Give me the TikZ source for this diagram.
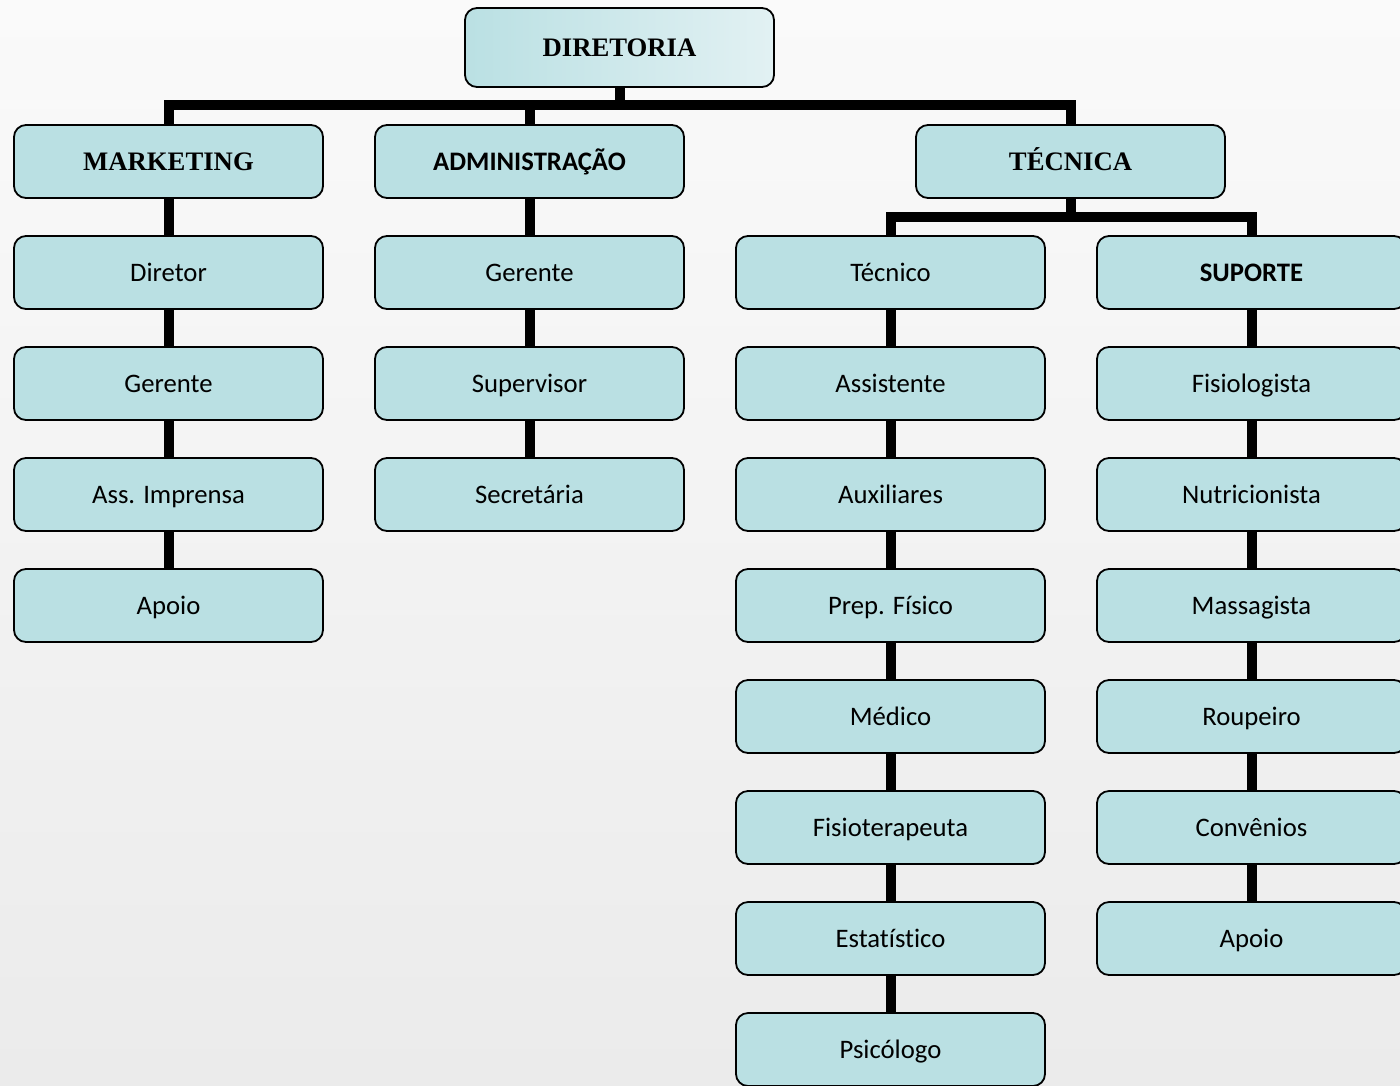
\documentclass[tikz,border=0pt]{standalone}
\usepackage{fontspec}
\newfontfamily\carlito[Ligatures=NoCommon]{Carlito}
\newfontfamily\tnr{Liberation Serif}

\definecolor{boxfill}{RGB}{186,224,227}
\definecolor{boxlight}{RGB}{226,241,243}
\definecolor{pagetop}{RGB}{250,250,250}
\definecolor{pagebot}{RGB}{235,235,235}

\pgfdeclarelayer{pageback}
\pgfdeclarelayer{wires}
\pgfsetlayers{pageback,wires,main}

\tikzset{
  unitbox/.style={draw=black, line width=1.8pt, rounded corners=12pt, fill=boxfill,
    minimum width=309pt, minimum height=73pt, inner sep=0pt,
    text height=19pt, text depth=1pt,
    font=\carlito\fontsize{26.7}{30}\selectfont},
  headserif/.style={font=\tnr\bfseries\fontsize{26.7}{30}\selectfont},
  headsans/.style={font=\carlito\bfseries\fontsize{26.7}{30}\selectfont},
  bar/.style={line width=10pt, line join=miter, line cap=butt, draw=black},
}

\begin{document}
\begin{tikzpicture}[x=1pt,y=1pt]
\useasboundingbox (0,0) rectangle (1400,-1085);
\clip (0,0) rectangle (1400,-1085);

\begin{pgfonlayer}{pageback}
  \fill[top color=pagetop, bottom color=pagebot] (0,0) rectangle (1400,-1085);
\end{pgfonlayer}

% top of the chart
\node[unitbox, headserif, minimum height=79pt, shading=axis, shading angle=60,
      left color=boxfill, right color=boxlight]
  (dir) at (619.5,-47.5) {DIRETORIA};

% department heads
\node[unitbox, headserif] (mk)  at (168.5,-161.5) {MARKETING};
\node[unitbox, headsans]  (adm) at (529.5,-161.5) {ADMINISTRAÇÃO};
\node[unitbox, headserif] (tec) at (1070.5,-161.5) {TÉCNICA};

% marketing column
\node[unitbox] (m1) at (168.5,-272.5) {Diretor};
\node[unitbox] (m2) at (168.5,-383.5) {Gerente};
\node[unitbox] (m3) at (168.5,-494.5) {Ass. Imprensa};
\node[unitbox] (m4) at (168.5,-605.5) {Apoio};

% administration column
\node[unitbox] (a1) at (529.5,-272.5) {Gerente};
\node[unitbox] (a2) at (529.5,-383.5) {Supervisor};
\node[unitbox] (a3) at (529.5,-494.5) {Secretária};

% technical staff column
\node[unitbox] (t1) at (890.5,-272.5) {Técnico};
\node[unitbox] (t2) at (890.5,-383.5) {Assistente};
\node[unitbox] (t3) at (890.5,-494.5) {Auxiliares};
\node[unitbox] (t4) at (890.5,-605.5) {Prep. Físico};
\node[unitbox] (t5) at (890.5,-716.5) {Médico};
\node[unitbox] (t6) at (890.5,-827.5) {Fisioterapeuta};
\node[unitbox] (t7) at (890.5,-938.5) {Estatístico};
\node[unitbox] (t8) at (890.5,-1049.5) {Psicólogo};

% support column
\node[unitbox, headsans] (s1) at (1251.5,-272.5) {SUPORTE};
\node[unitbox] (s2) at (1251.5,-383.5) {Fisiologista};
\node[unitbox] (s3) at (1251.5,-494.5) {Nutricionista};
\node[unitbox] (s4) at (1251.5,-605.5) {Massagista};
\node[unitbox] (s5) at (1251.5,-716.5) {Roupeiro};
\node[unitbox] (s6) at (1251.5,-827.5) {Convênios};
\node[unitbox] (s7) at (1251.5,-938.5) {Apoio};

% junction points of the bars
\coordinate (hub) at (619.5,-105);
\coordinate (tecHub) at (1070.5,-217);

\begin{pgfonlayer}{wires}
  \draw[bar] (dir.south) -- (hub) -| (mk.north);
  \draw[bar] (hub) -| (adm.north);
  \draw[bar] (hub) -| (tec.north);
  \draw[bar] (tec.south) -- (tecHub) -| (t1.north);
  \draw[bar] (tecHub) -| (s1.north);
  \foreach \a/\b in {mk/m1, m1/m2, m2/m3, m3/m4,
                     adm/a1, a1/a2, a2/a3,
                     t1/t2, t2/t3, t3/t4, t4/t5, t5/t6, t6/t7, t7/t8,
                     s1/s2, s2/s3, s3/s4, s4/s5, s5/s6, s6/s7}
    \draw[bar] (\a.south) -- (\b.north);
\end{pgfonlayer}
\end{tikzpicture}
\end{document}
